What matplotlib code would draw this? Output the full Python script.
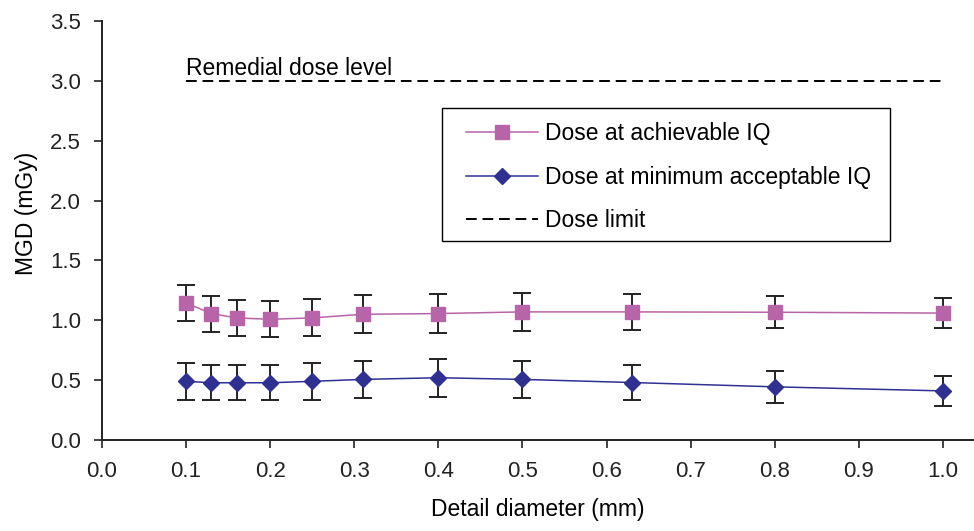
import matplotlib
matplotlib.use("Agg")
import matplotlib.pyplot as plt
from matplotlib.patches import Rectangle

plt.rcParams['font.family'] = ['Liberation Sans', 'DejaVu Sans']

diameter = [0.1, 0.13, 0.16, 0.2, 0.25, 0.31, 0.4, 0.5, 0.63, 0.8, 1.0]
achievable = [1.145, 1.056, 1.02, 1.008, 1.02, 1.05, 1.056, 1.07, 1.07, 1.067, 1.06]
achievable_err = [0.15, 0.15, 0.148, 0.15, 0.155, 0.16, 0.16, 0.16, 0.15, 0.135, 0.125]
minimum = [0.49, 0.478, 0.478, 0.478, 0.49, 0.506, 0.52, 0.506, 0.48, 0.444, 0.41]
minimum_err = [0.155, 0.148, 0.148, 0.148, 0.153, 0.157, 0.157, 0.153, 0.147, 0.135, 0.125]
dose_limit = 3.0
limit_x = [0.1, 1.0]

pink = '#B864A9'
navy = '#2E3192'
fs = 16.5

fig = plt.figure(figsize=(9.74, 5.31), dpi=100)
ax = fig.add_axes([0.1047, 0.1714, 0.8953, 0.7891])

ax.errorbar(diameter, achievable, yerr=achievable_err, fmt='none', ecolor='#222222',
            elinewidth=1.4, capsize=6.5, capthick=1.4, zorder=2)
ax.errorbar(diameter, minimum, yerr=minimum_err, fmt='none', ecolor='#222222',
            elinewidth=1.4, capsize=6.5, capthick=1.4, zorder=2)

ax.plot(diameter, achievable, color=pink, lw=1.1, marker='s', markersize=9.5,
        markerfacecolor=pink, markeredgecolor=pink, label='Dose at achievable IQ', zorder=3)
ax.plot(diameter, minimum, color=navy, lw=1.1, marker='D', markersize=8,
        markerfacecolor=navy, markeredgecolor=navy, label='Dose at minimum acceptable IQ', zorder=3)
ax.plot(limit_x, [dose_limit, dose_limit], color='black', lw=1.4, ls=(0, (5.5, 3)),
        label='Dose limit', zorder=3)

ax.text(0.1, 3.01, 'Remedial dose level', fontsize=fs, ha='left', va='bottom')

ax.set_xlim(0, 1.037)
ax.set_ylim(0, 3.5)
ax.set_xticks([i / 10 for i in range(11)])
ax.set_xticklabels([f'{i/10:.1f}' for i in range(11)])
ax.set_yticks([i * 0.5 for i in range(8)])
ax.set_yticklabels([f'{i*0.5:.1f}' for i in range(8)])
ax.tick_params(axis='both', direction='out', length=6, width=1.2, labelsize=16,
               colors='#222222', pad=9)
ax.tick_params(axis='x', pad=9)
for s in ['top', 'right']:
    ax.spines[s].set_visible(False)
for s in ['left', 'bottom']:
    ax.spines[s].set_linewidth(1.4)
    ax.spines[s].set_color('#222222')

ax.set_xlabel('Detail diameter (mm)', fontsize=fs, labelpad=12)
ax.set_ylabel('MGD (mGy)', fontsize=fs)
ax.yaxis.set_label_coords(-0.073, 0.54)

# legend frame
frame = Rectangle((0.3899, 0.4749), 0.5138, 0.3174, transform=ax.transAxes,
                  facecolor='white', edgecolor='black', lw=1.0, zorder=4)
ax.add_patch(frame)

leg = ax.legend(loc='upper left', bbox_to_anchor=(0.4174, 0.759), fontsize=fs,
                frameon=False, handlelength=3.15, labelspacing=0.9, borderpad=0,
                handletextpad=0.3, borderaxespad=0)
leg.set_zorder(5)

fig.savefig('out.png', dpi=100)
